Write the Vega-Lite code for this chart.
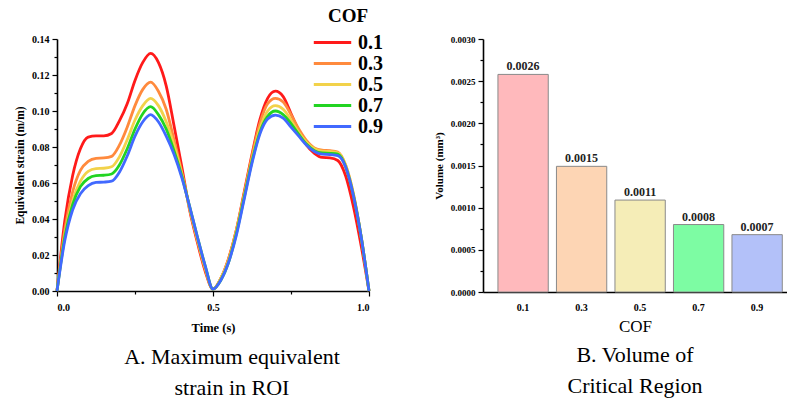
{
  "$schema": "https://vega.github.io/schema/vega-lite/v6.json",
  "padding": {"left": 14, "top": 7, "right": 0, "bottom": 0},
  "background": "white",
  "config": {
    "font": "Liberation Serif",
    "view": {"stroke": null},
    "axis": {"domainColor": "black", "domainWidth": 1.6, "tickColor": "black", "tickWidth": 1.2, "labelFontWeight": "bold", "labelFontSize": 10, "labelColor": "black", "titleFontWeight": "bold", "titleFontSize": 12, "titleColor": "black", "grid": false}
  },
  "spacing": 50,
  "resolve": {"scale": {"color": "independent"}},
  "datasets": {
    "strain": [
      {"t":0,"c":"0.1","v":0},{"t":0.025,"c":"0.1","v":0.039},{"t":0.05,"c":"0.1","v":0.064},{"t":0.075,"c":"0.1","v":0.079},{"t":0.1,"c":"0.1","v":0.0855},{"t":0.125,"c":"0.1","v":0.0862},{"t":0.15,"c":"0.1","v":0.0862},{"t":0.175,"c":"0.1","v":0.0875},{"t":0.2,"c":"0.1","v":0.0945},{"t":0.225,"c":"0.1","v":0.104},{"t":0.25,"c":"0.1","v":0.117},{"t":0.275,"c":"0.1","v":0.127},{"t":0.3,"c":"0.1","v":0.132},{"t":0.325,"c":"0.1","v":0.127},{"t":0.35,"c":"0.1","v":0.114},{"t":0.375,"c":"0.1","v":0.092},{"t":0.4,"c":"0.1","v":0.069},{"t":0.425,"c":"0.1","v":0.045},{"t":0.45,"c":"0.1","v":0.027},{"t":0.475,"c":"0.1","v":0.011},{"t":0.5,"c":"0.1","v":0.001},{"t":0.525,"c":"0.1","v":0.007},{"t":0.55,"c":"0.1","v":0.018},{"t":0.575,"c":"0.1","v":0.034},{"t":0.6,"c":"0.1","v":0.055},{"t":0.625,"c":"0.1","v":0.076},{"t":0.65,"c":"0.1","v":0.095},{"t":0.675,"c":"0.1","v":0.107},{"t":0.7,"c":"0.1","v":0.111},{"t":0.725,"c":"0.1","v":0.108},{"t":0.75,"c":"0.1","v":0.0986},{"t":0.775,"c":"0.1","v":0.089},{"t":0.8,"c":"0.1","v":0.081},{"t":0.825,"c":"0.1","v":0.0765},{"t":0.85,"c":"0.1","v":0.0742},{"t":0.875,"c":"0.1","v":0.074},{"t":0.9,"c":"0.1","v":0.0725},{"t":0.925,"c":"0.1","v":0.064},{"t":0.95,"c":"0.1","v":0.047},{"t":0.975,"c":"0.1","v":0.025},{"t":1,"c":"0.1","v":0},
      {"t":0,"c":"0.3","v":0},{"t":0.025,"c":"0.3","v":0.034},{"t":0.05,"c":"0.3","v":0.055},{"t":0.075,"c":"0.3","v":0.067},{"t":0.1,"c":"0.3","v":0.072},{"t":0.125,"c":"0.3","v":0.0737},{"t":0.15,"c":"0.3","v":0.0739},{"t":0.175,"c":"0.3","v":0.0748},{"t":0.2,"c":"0.3","v":0.081},{"t":0.225,"c":"0.3","v":0.091},{"t":0.25,"c":"0.3","v":0.103},{"t":0.275,"c":"0.3","v":0.112},{"t":0.3,"c":"0.3","v":0.116},{"t":0.325,"c":"0.3","v":0.111},{"t":0.35,"c":"0.3","v":0.101},{"t":0.375,"c":"0.3","v":0.084},{"t":0.4,"c":"0.3","v":0.066},{"t":0.425,"c":"0.3","v":0.046},{"t":0.45,"c":"0.3","v":0.028},{"t":0.475,"c":"0.3","v":0.012},{"t":0.5,"c":"0.3","v":0.001},{"t":0.525,"c":"0.3","v":0.007},{"t":0.55,"c":"0.3","v":0.018},{"t":0.575,"c":"0.3","v":0.034},{"t":0.6,"c":"0.3","v":0.054},{"t":0.625,"c":"0.3","v":0.075},{"t":0.65,"c":"0.3","v":0.093},{"t":0.675,"c":"0.3","v":0.104},{"t":0.7,"c":"0.3","v":0.107},{"t":0.725,"c":"0.3","v":0.105},{"t":0.75,"c":"0.3","v":0.098},{"t":0.775,"c":"0.3","v":0.09},{"t":0.8,"c":"0.3","v":0.0835},{"t":0.825,"c":"0.3","v":0.0795},{"t":0.85,"c":"0.3","v":0.0783},{"t":0.875,"c":"0.3","v":0.078},{"t":0.9,"c":"0.3","v":0.0772},{"t":0.925,"c":"0.3","v":0.07},{"t":0.95,"c":"0.3","v":0.054},{"t":0.975,"c":"0.3","v":0.03},{"t":1,"c":"0.3","v":0},
      {"t":0,"c":"0.5","v":0},{"t":0.025,"c":"0.5","v":0.031},{"t":0.05,"c":"0.5","v":0.05},{"t":0.075,"c":"0.5","v":0.061},{"t":0.1,"c":"0.5","v":0.0665},{"t":0.125,"c":"0.5","v":0.068},{"t":0.15,"c":"0.5","v":0.0682},{"t":0.175,"c":"0.5","v":0.069},{"t":0.2,"c":"0.5","v":0.0745},{"t":0.225,"c":"0.5","v":0.084},{"t":0.25,"c":"0.5","v":0.095},{"t":0.275,"c":"0.5","v":0.103},{"t":0.3,"c":"0.5","v":0.107},{"t":0.325,"c":"0.5","v":0.103},{"t":0.35,"c":"0.5","v":0.094},{"t":0.375,"c":"0.5","v":0.081},{"t":0.4,"c":"0.5","v":0.065},{"t":0.425,"c":"0.5","v":0.046},{"t":0.45,"c":"0.5","v":0.029},{"t":0.475,"c":"0.5","v":0.013},{"t":0.5,"c":"0.5","v":0.001},{"t":0.525,"c":"0.5","v":0.007},{"t":0.55,"c":"0.5","v":0.017},{"t":0.575,"c":"0.5","v":0.033},{"t":0.6,"c":"0.5","v":0.053},{"t":0.625,"c":"0.5","v":0.073},{"t":0.65,"c":"0.5","v":0.09},{"t":0.675,"c":"0.5","v":0.1},{"t":0.7,"c":"0.5","v":0.103},{"t":0.725,"c":"0.5","v":0.101},{"t":0.75,"c":"0.5","v":0.095},{"t":0.775,"c":"0.5","v":0.088},{"t":0.8,"c":"0.5","v":0.0825},{"t":0.825,"c":"0.5","v":0.079},{"t":0.85,"c":"0.5","v":0.0777},{"t":0.875,"c":"0.5","v":0.0775},{"t":0.9,"c":"0.5","v":0.0768},{"t":0.925,"c":"0.5","v":0.07},{"t":0.95,"c":"0.5","v":0.054},{"t":0.975,"c":"0.5","v":0.03},{"t":1,"c":"0.5","v":0},
      {"t":0,"c":"0.7","v":0},{"t":0.025,"c":"0.7","v":0.03},{"t":0.05,"c":"0.7","v":0.048},{"t":0.075,"c":"0.7","v":0.058},{"t":0.1,"c":"0.7","v":0.0625},{"t":0.125,"c":"0.7","v":0.0641},{"t":0.15,"c":"0.7","v":0.0643},{"t":0.175,"c":"0.7","v":0.065},{"t":0.2,"c":"0.7","v":0.07},{"t":0.225,"c":"0.7","v":0.079},{"t":0.25,"c":"0.7","v":0.09},{"t":0.275,"c":"0.7","v":0.0985},{"t":0.3,"c":"0.7","v":0.1024},{"t":0.325,"c":"0.7","v":0.098},{"t":0.35,"c":"0.7","v":0.09},{"t":0.375,"c":"0.7","v":0.078},{"t":0.4,"c":"0.7","v":0.064},{"t":0.425,"c":"0.7","v":0.047},{"t":0.45,"c":"0.7","v":0.03},{"t":0.475,"c":"0.7","v":0.014},{"t":0.5,"c":"0.7","v":0.001},{"t":0.525,"c":"0.7","v":0.006},{"t":0.55,"c":"0.7","v":0.016},{"t":0.575,"c":"0.7","v":0.032},{"t":0.6,"c":"0.7","v":0.052},{"t":0.625,"c":"0.7","v":0.072},{"t":0.65,"c":"0.7","v":0.088},{"t":0.675,"c":"0.7","v":0.097},{"t":0.7,"c":"0.7","v":0.1},{"t":0.725,"c":"0.7","v":0.098},{"t":0.75,"c":"0.7","v":0.093},{"t":0.775,"c":"0.7","v":0.087},{"t":0.8,"c":"0.7","v":0.0815},{"t":0.825,"c":"0.7","v":0.078},{"t":0.85,"c":"0.7","v":0.0767},{"t":0.875,"c":"0.7","v":0.0765},{"t":0.9,"c":"0.7","v":0.076},{"t":0.925,"c":"0.7","v":0.069},{"t":0.95,"c":"0.7","v":0.053},{"t":0.975,"c":"0.7","v":0.03},{"t":1,"c":"0.7","v":0},
      {"t":0,"c":"0.9","v":0},{"t":0.025,"c":"0.9","v":0.028},{"t":0.05,"c":"0.9","v":0.045},{"t":0.075,"c":"0.9","v":0.054},{"t":0.1,"c":"0.9","v":0.0585},{"t":0.125,"c":"0.9","v":0.0603},{"t":0.15,"c":"0.9","v":0.0605},{"t":0.175,"c":"0.9","v":0.061},{"t":0.2,"c":"0.9","v":0.066},{"t":0.225,"c":"0.9","v":0.075},{"t":0.25,"c":"0.9","v":0.086},{"t":0.275,"c":"0.9","v":0.094},{"t":0.3,"c":"0.9","v":0.098},{"t":0.325,"c":"0.9","v":0.094},{"t":0.35,"c":"0.9","v":0.086},{"t":0.375,"c":"0.9","v":0.076},{"t":0.4,"c":"0.9","v":0.063},{"t":0.425,"c":"0.9","v":0.047},{"t":0.45,"c":"0.9","v":0.03},{"t":0.475,"c":"0.9","v":0.014},{"t":0.5,"c":"0.9","v":0.001},{"t":0.525,"c":"0.9","v":0.006},{"t":0.55,"c":"0.9","v":0.016},{"t":0.575,"c":"0.9","v":0.031},{"t":0.6,"c":"0.9","v":0.051},{"t":0.625,"c":"0.9","v":0.071},{"t":0.65,"c":"0.9","v":0.087},{"t":0.675,"c":"0.9","v":0.0955},{"t":0.7,"c":"0.9","v":0.0977},{"t":0.725,"c":"0.9","v":0.096},{"t":0.75,"c":"0.9","v":0.091},{"t":0.775,"c":"0.9","v":0.086},{"t":0.8,"c":"0.9","v":0.081},{"t":0.825,"c":"0.9","v":0.0775},{"t":0.85,"c":"0.9","v":0.076},{"t":0.875,"c":"0.9","v":0.0758},{"t":0.9,"c":"0.9","v":0.0752},{"t":0.925,"c":"0.9","v":0.069},{"t":0.95,"c":"0.9","v":0.053},{"t":0.975,"c":"0.9","v":0.03},{"t":1,"c":"0.9","v":0}
    ],
    "vol": [
      {"cb":"0.1","v":0.00258,"label":"0.0026"},
      {"cb":"0.3","v":0.00149,"label":"0.0015"},
      {"cb":"0.5","v":0.00109,"label":"0.0011"},
      {"cb":"0.7","v":0.0008,"label":"0.0008"},
      {"cb":"0.9","v":0.00068,"label":"0.0007"}
    ]
  },
  "hconcat": [
    {
      "width": 312,
      "height": 252,
      "data": {"name": "strain"},
      "mark": {"type": "line", "interpolate": "monotone", "strokeWidth": 2.8},
      "encoding": {
        "x": {"field": "t", "type": "quantitative", "scale": {"domain": [0, 1], "nice": false},
          "axis": {"title": "Time (s)", "values": [0, 0.25, 0.5, 0.75, 1], "labelExpr": "datum.value == 0.25 || datum.value == 0.75 ? '' : format(datum.value, '.1f')", "tickSize": {"condition": {"test": "datum.value == 0.25 || datum.value == 0.75", "value": 3}, "value": 5}, "labelPadding": 6, "titlePadding": 9, "labelFontSize": 10, "titleFontSize": 12.5}},
        "y": {"field": "v", "type": "quantitative", "scale": {"domain": [0, 0.14], "nice": false},
          "axis": {"title": "Equivalent strain (m/m)", "values": [0, 0.01, 0.02, 0.03, 0.04, 0.05, 0.06, 0.07, 0.08, 0.09, 0.1, 0.11, 0.12, 0.13, 0.14], "labelExpr": "round(datum.value * 100) % 2 == 1 ? '' : format(datum.value, '.2f')", "tickSize": {"condition": {"test": "round(datum.value * 100) % 2 == 1", "value": 3}, "value": 5}, "labelPadding": 3, "titlePadding": 6, "titleFontSize": 11.5}},
        "color": {"field": "c", "type": "nominal",
          "scale": {"domain": ["0.1", "0.3", "0.5", "0.7", "0.9"], "range": ["#ff1a1a", "#ff8a3d", "#f2d24a", "#22d422", "#4169ff"]},
          "legend": {"title": "COF", "orient": "none", "legendX": 255, "legendY": -32, "titleFontSize": 19, "titleFontWeight": "bold", "titleColor": "black", "titleAnchor": "middle", "titlePadding": 6, "labelFontSize": 20, "labelFontWeight": "bold", "labelColor": "black", "labelOffset": 5, "symbolType": "stroke", "symbolSize": 1400, "symbolStrokeWidth": 3, "clipHeight": 21, "rowPadding": 0}}
      },
      "title": {"text": ["A. Maximum equivalent", "strain in ROI"], "orient": "bottom", "anchor": "middle", "frame": "group", "dx": 19, "fontSize": 22, "fontWeight": "normal", "color": "black", "offset": 13, "lineHeight": 31}
    },
    {
      "width": 304,
      "height": 253,
      "data": {"name": "vol"},
      "encoding": {
        "x": {"field": "cb", "type": "nominal", "sort": null, "scale": {"paddingInner": 0.14, "paddingOuter": 0.168, "align": 0.76},
          "axis": {"title": "COF", "labelAngle": 0, "ticks": false, "labelPadding": 10, "titlePadding": 6, "titleFontWeight": "normal", "titleFontSize": 17, "labelFontSize": 10}},
        "y": {"field": "v", "type": "quantitative", "scale": {"domain": [0, 0.003], "nice": false},
          "axis": {"title": "Volume (mm³)", "values": [0, 0.00025, 0.0005, 0.00075, 0.001, 0.00125, 0.0015, 0.00175, 0.002, 0.00225, 0.0025, 0.00275, 0.003], "labelExpr": "round(datum.value * 4000) % 2 == 1 ? '' : format(datum.value, '.4f')", "tickSize": {"condition": {"test": "round(datum.value * 4000) % 2 == 1", "value": 3}, "value": 5}, "labelPadding": 3, "titlePadding": 6, "labelFontSize": 9, "titleFontSize": 11}}
      },
      "layer": [
        {"mark": {"type": "bar", "stroke": "#8a8a8a", "strokeWidth": 1},
          "encoding": {"color": {"field": "cb", "type": "nominal", "scale": {"domain": ["0.1", "0.3", "0.5", "0.7", "0.9"], "range": ["#ffb9bc", "#fdd5b4", "#f5edb7", "#7dfca3", "#b3c1f9"]}, "legend": null}}},
        {"mark": {"type": "text", "dy": -8, "fontWeight": "bold", "fontSize": 12, "color": "#222"},
          "encoding": {"text": {"field": "label"}}}
      ],
      "title": {"text": ["B. Volume of", "Critical Region"], "orient": "bottom", "anchor": "middle", "frame": "group", "fontSize": 22, "fontWeight": "normal", "color": "black", "offset": 11, "lineHeight": 31}
    }
  ]
}
